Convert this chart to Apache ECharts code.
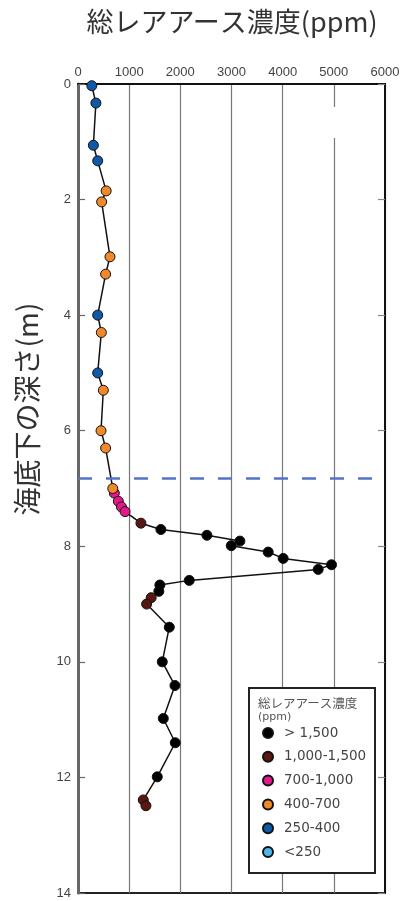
<!DOCTYPE html>
<html><head><meta charset="utf-8">
<script src="https://cdn.jsdelivr.net/npm/echarts@6/dist/echarts.min.js"></script>
<style>html,body{margin:0;padding:0;background:#fff}#c{width:406px;height:901px}</style>
</head><body><div id="c"></div>
<script>
// depth below seafloor (m)
const depths = [0.03, 0.33, 1.06, 1.33, 1.85, 2.04, 2.99, 3.29, 4.00, 4.30, 5.00, 5.30, 6.00, 6.30,
  7.00, 7.08, 7.22, 7.32, 7.40, 7.60, 7.71, 7.81, 7.91, 7.99, 8.10, 8.21, 8.32, 8.40, 8.59, 8.67,
  8.78, 8.89, 9.00, 9.40, 10.00, 10.41, 10.98, 11.40, 11.99, 12.39, 12.49];
// total REE concentration (ppm)
const values = [270, 350, 300, 385, 550, 462, 625, 540, 385, 456, 385, 495, 450, 540,
  680, 710, 788, 850, 920, 1230, 1620, 2520, 3164, 2995, 3717, 4010, 4955, 4694, 2174, 1600,
  1580, 1430, 1341, 1784, 1647, 1895, 1667, 1901, 1549, 1276, 1328];
const categories = ['> 1,500', '1,000-1,500', '700-1,000', '400-700', '250-400', '<250'];
const catColors = ['#000000', '#5a1712', '#e3198b', '#f0892a', '#0f5aa8', '#4db6e6'];
const boundaryDepth = 6.83;
const xTitle = '総レアアース濃度(ppm)';
const yTitle = '海底下の深さ(m)';
const legendTitle = '総レアアース濃度';
const legendUnit = '(ppm)';

function catOf(v){ if (v > 1500) return 0; if (v >= 1000) return 1; if (v >= 700) return 2; if (v >= 400) return 3; if (v >= 250) return 4; return 5; }
const pts = values.map((v,i)=>[v, depths[i]]);
const scatterSeries = categories.map((name, ci)=>({
  name, type:'scatter', symbol:'circle', symbolSize:10, z:3,
  itemStyle:{color:catColors[ci], borderColor:'#111', borderWidth:1, opacity:1},
  data: pts.filter(p=>catOf(p[0])===ci)
}));

const chart = echarts.init(document.getElementById('c'), null, {renderer:'canvas'});
const latin = 'Liberation Sans, Arial, sans-serif';
chart.setOption({
  animation:false,
  grid:{left:78, top:84, right:21, bottom:8, show:true, borderColor:'#222', borderWidth:2, backgroundColor:'transparent'},
  xAxis:[{type:'value', position:'top', min:0, max:6000, interval:1000,
    axisLine:{show:true, lineStyle:{color:'#111', width:2}}, axisTick:{show:false},
    axisLabel:{fontSize:13, color:'#444', fontFamily:latin, margin:5, formatter:v=>String(v)},
    splitLine:{show:true, lineStyle:{color:'#777', width:1.2}}}],
  yAxis:[{type:'value', inverse:true, min:0, max:14, interval:2,
    axisLine:{show:true, lineStyle:{color:'#666', width:3}},
    axisTick:{show:true, inside:true, length:7, lineStyle:{color:'#666', width:1.2}},
    axisLabel:{fontSize:13, color:'#444', fontFamily:latin, margin:7},
    splitLine:{show:false}},
   {type:'value', inverse:true, min:0, max:14, interval:2, position:'right',
    axisLine:{show:true, lineStyle:{color:'#111', width:2}},
    axisTick:{show:true, inside:true, length:7, lineStyle:{color:'#888', width:1.2}},
    axisLabel:{show:false}, splitLine:{show:false}}],
  legend:{orient:'vertical', left:262, top:726, padding:0, z:10, itemWidth:10, itemHeight:10, itemGap:9.8,
    icon:'circle', data:categories, selectedMode:false,
    textStyle:{fontSize:13.5, color:'#444', fontFamily:'DejaVu Sans, sans-serif', lineHeight:14, padding:[0,0,0,6]}},
  graphic:[
    {type:'text', x:232, y:22, z:10, style:{text:xTitle, font:'27px "Noto Sans CJK JP"', fill:'#333', align:'center', verticalAlign:'middle'}},
    {type:'text', x:27, y:409, rotation:Math.PI/2, z:10, style:{text:yTitle, font:'28px "Noto Sans CJK JP"', fill:'#333', align:'center', verticalAlign:'middle'}},
    {type:'rect', z:1, shape:{x:310, y:107, width:68, height:31}, style:{fill:'#fff'}},
    {type:'rect', z:5, shape:{x:249, y:688, width:126, height:185}, style:{fill:'#fff', stroke:'#222', lineWidth:2}},
    {type:'text', x:258, y:703, z:6, style:{text:legendTitle, font:'12.5px "Noto Sans CJK JP"', fill:'#555', align:'left', verticalAlign:'middle'}},
    {type:'text', x:258, y:717, z:6, style:{text:legendUnit, font:'11px "DejaVu Sans"', fill:'#555', align:'left', verticalAlign:'middle'}}
  ],
  series:[{type:'line', name:'profile', data:pts, showSymbol:false, symbol:'none', z:2,
    lineStyle:{color:'#111', width:1.5},
    markLine:{silent:true, symbol:'none', label:{show:false},
      lineStyle:{color:'#5573c9', width:2.5, type:[14,14]},
      data:[{yAxis:boundaryDepth}]}}].concat(scatterSeries)
});
</script></body></html>
